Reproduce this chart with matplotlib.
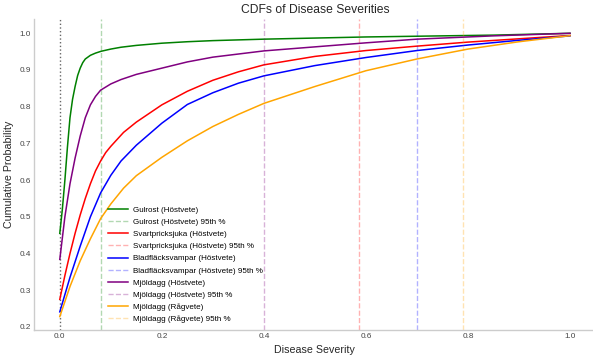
import numpy as np
import matplotlib
matplotlib.use('Agg')
import matplotlib.pyplot as plt

plt.rcParams['font.family'] = ['Liberation Sans', 'DejaVu Sans']

# values
sev_gulrost = [0.0, 0.005, 0.01, 0.015, 0.02, 0.025, 0.03, 0.035, 0.04, 0.045,
               0.05, 0.06, 0.07, 0.081, 0.1, 0.12, 0.15, 0.2, 0.25, 0.3,
               0.4, 0.5, 0.6, 0.7, 0.85, 1.0]
cdf_gulrost = [0.455, 0.52, 0.60, 0.69, 0.77, 0.82, 0.855, 0.885, 0.905, 0.92,
               0.93, 0.94, 0.946, 0.951, 0.957, 0.962, 0.967, 0.973, 0.977, 0.980,
               0.984, 0.987, 0.990, 0.992, 0.995, 1.0]

sev_svart = [0.0, 0.01, 0.02, 0.03, 0.04, 0.05, 0.06, 0.07, 0.08, 0.09,
             0.1, 0.125, 0.15, 0.2, 0.25, 0.3, 0.35, 0.4, 0.5, 0.6,
             0.7, 0.8, 0.9, 1.0]
cdf_svart = [0.275, 0.34, 0.40, 0.455, 0.505, 0.55, 0.59, 0.625, 0.652, 0.675,
             0.692, 0.73, 0.758, 0.805, 0.842, 0.872, 0.895, 0.914, 0.937, 0.953,
             0.965, 0.976, 0.985, 0.994]

sev_blad = [0.0, 0.02, 0.04, 0.06, 0.08, 0.1, 0.12, 0.15, 0.2, 0.25,
            0.3, 0.35, 0.4, 0.5, 0.6, 0.7, 0.8, 0.9, 1.0]
cdf_blad = [0.241, 0.335, 0.42, 0.50, 0.565, 0.613, 0.652, 0.695, 0.755, 0.806,
            0.838, 0.864, 0.884, 0.912, 0.934, 0.953, 0.968, 0.981, 0.993]

sev_mjol_h = [0.0, 0.01, 0.02, 0.03, 0.04, 0.05, 0.06, 0.07, 0.08, 0.1,
              0.12, 0.15, 0.2, 0.25, 0.3, 0.4, 0.5, 0.6, 0.7, 0.85, 1.0]
cdf_mjol_h = [0.384, 0.50, 0.59, 0.66, 0.72, 0.77, 0.805, 0.828, 0.845, 0.862,
              0.874, 0.888, 0.905, 0.922, 0.935, 0.952, 0.963, 0.974, 0.984, 0.993,
              1.0]

sev_mjol_r = [0.0, 0.02, 0.04, 0.06, 0.08, 0.1, 0.125, 0.15, 0.2, 0.25,
              0.3, 0.35, 0.4, 0.5, 0.6, 0.7, 0.8, 0.9, 1.0]
cdf_mjol_r = [0.228, 0.31, 0.38, 0.44, 0.495, 0.535, 0.578, 0.612, 0.662, 0.707,
              0.746, 0.779, 0.809, 0.855, 0.898, 0.930, 0.957, 0.977, 0.9935]

labels = ['Gulrost (Höstvete)', 'Svartpricksjuka (Höstvete)',
          'Bladfläcksvampar (Höstvete)', 'Mjöldagg (Höstvete)',
          'Mjöldagg (Rågvete)']
colors = ['green', 'red', 'blue', 'purple', 'orange']
p95 = [0.081, 0.587, 0.70, 0.40, 0.79]

severities = [sev_gulrost, sev_svart, sev_blad, sev_mjol_h, sev_mjol_r]
cdfs = [cdf_gulrost, cdf_svart, cdf_blad, cdf_mjol_h, cdf_mjol_r]

text_col = '#262626'

fig = plt.figure(figsize=(5.93, 3.56), dpi=100)
ax = fig.add_axes([0.0578, 0.073, 0.9465, 0.8737])

ax.axvline(0, color='black', alpha=0.6, linestyle=':', linewidth=1)

for sev, cdf, lab, col, p in zip(severities, cdfs, labels, colors, p95):
    ax.plot(sev, cdf, color=col, linewidth=1.1, label=lab)
    ax.axvline(p, color=col, linestyle='--', linewidth=1, alpha=0.3,
               label=f'{lab} 95th %')

ax.set_xlim(-0.05, 1.05)
ax.set_ylim(0.1915, 1.039)
ax.set_xticks(np.arange(0, 1.01, 0.2))
ax.set_yticks(np.arange(0.2, 1.01, 0.1))
ax.tick_params(length=0, labelsize=5.9, labelcolor='#444444', pad=2.5)

for side in ['top', 'right']:
    ax.spines[side].set_visible(False)
for side in ['left', 'bottom']:
    ax.spines[side].set_color('#cccccc')
    ax.spines[side].set_linewidth(1)

ax.set_title('CDFs of Disease Severities', fontsize=8.7, color=text_col, pad=4)
ax.set_xlabel('Disease Severity', fontsize=7.7, color=text_col, labelpad=3)
ax.set_ylabel('Cumulative Probability', fontsize=7.7, color=text_col, labelpad=4)

ax.legend(loc='upper left', bbox_to_anchor=(0.131, 0.398), frameon=False,
          fontsize=5.8, labelspacing=0.56, handlelength=2.5,
          handletextpad=0.6, borderpad=0, borderaxespad=0)

fig.savefig('out.png', dpi=100)
